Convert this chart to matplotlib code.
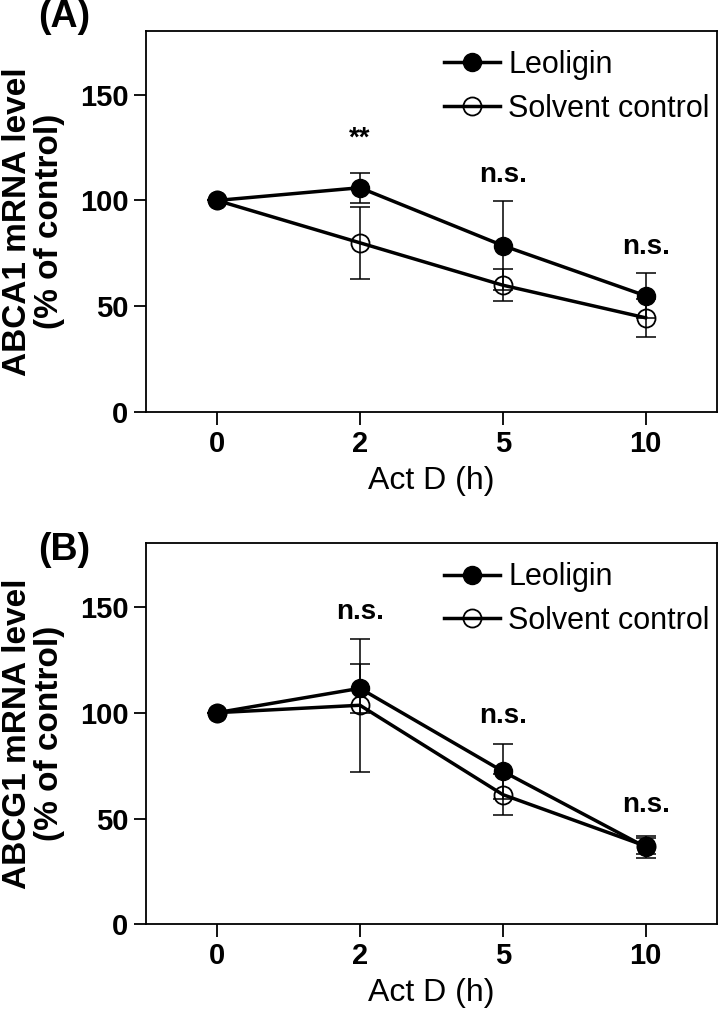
import matplotlib
matplotlib.use("Agg")
import matplotlib.pyplot as plt

plt.rcParams['font.family'] = ['Liberation Sans', 'DejaVu Sans']

times = ['0', '2', '5', '10']

# panel A: ABCA1
leo_a = [100, 106, 78.7, 55.0]
leo_a_err = [0, 7, 21, 10.6]
sol_a = [100, 80, 60, 44.6]
sol_a_err = [0, 17, 7.5, 9]
sig_a = ['', '**', 'n.s.', 'n.s.']
sig_a_y = [0, 129, 112, 78]

# panel B: ABCG1
leo_b = [100, 111.5, 72.3, 36.5]
leo_b_err = [0, 11.5, 13, 5]
sol_b = [100, 103.5, 61.3, 37]
sol_b_err = [0, 31.5, 9.5, 4]
sig_b = ['', 'n.s.', 'n.s.', 'n.s.']
sig_b_y = [0, 147.5, 98.5, 56.5]

fig = plt.figure(figsize=(7.18, 10.18), dpi=100)


def panel(rect, leo, leo_err, sol, sol_err, sig, sig_y, ylab, tag, tag_y):
    ax = fig.add_axes(rect)
    x = list(range(len(times)))
    ax.errorbar(x, sol, yerr=sol_err, fmt='none', ecolor='black',
                elinewidth=1.1, capsize=7, capthick=1.1, zorder=2)
    ax.errorbar(x, leo, yerr=leo_err, fmt='none', ecolor='black',
                elinewidth=1.1, capsize=7, capthick=1.1, zorder=2)
    ax.plot(x, sol, '-o', color='black', lw=2.5, ms=13, mfc='none',
            mec='black', mew=1.3, label='Solvent control', zorder=3)
    ax.plot(x, leo, '-o', color='black', lw=2.5, ms=13, mfc='black',
            label='Leoligin', zorder=4)
    for xi, s, yy in zip(x, sig, sig_y):
        if s:
            ax.text(xi, yy, s, ha='center', va='center', fontsize=20,
                    fontweight='bold')
    ax.set_xlim(-0.5, 3.5)
    ax.set_ylim(0, 180)
    ax.set_xticks(x)
    ax.set_xticklabels(times)
    ax.set_yticks([0, 50, 100, 150])
    for lab in ax.get_xticklabels() + ax.get_yticklabels():
        lab.set_fontweight('bold')
        lab.set_fontsize(21)
    ax.tick_params(direction='out', length=9, width=1.3, pad=3.5)
    for sp in ax.spines.values():
        sp.set_linewidth(1.3)
    ax.set_xlabel('Act D (h)', fontsize=23, labelpad=6)
    ax.set_ylabel(ylab, fontsize=24, fontweight='bold', linespacing=1.05)
    ax.yaxis.set_label_coords(-0.197, 0.5)
    ax.yaxis.label.set_va('center')
    handles, labels = ax.get_legend_handles_labels()
    ax.legend(handles[::-1], labels[::-1], loc='upper left',
              bbox_to_anchor=(0.522, 0.95), frameon=False, handlelength=1.85,
              handletextpad=0.25, labelspacing=0.45, borderaxespad=0,
              borderpad=0, fontsize=22)
    ax.text(-0.143, tag_y, tag, transform=ax.transAxes, fontsize=27,
            fontweight='bold', ha='center', va='center')
    return ax


panel([0.2029, 0.595, 0.7957, 0.3746], leo_a, leo_a_err, sol_a, sol_a_err,
      sig_a, sig_a_y, 'ABCA1 mRNA level\n(% of control)', '(A)', 1.036)
panel([0.2029, 0.092, 0.7957, 0.3743], leo_b, leo_b_err, sol_b, sol_b_err,
      sig_b, sig_b_y, 'ABCG1 mRNA level\n(% of control)', '(B)', 0.982)

plt.savefig('out.png', dpi=100)
